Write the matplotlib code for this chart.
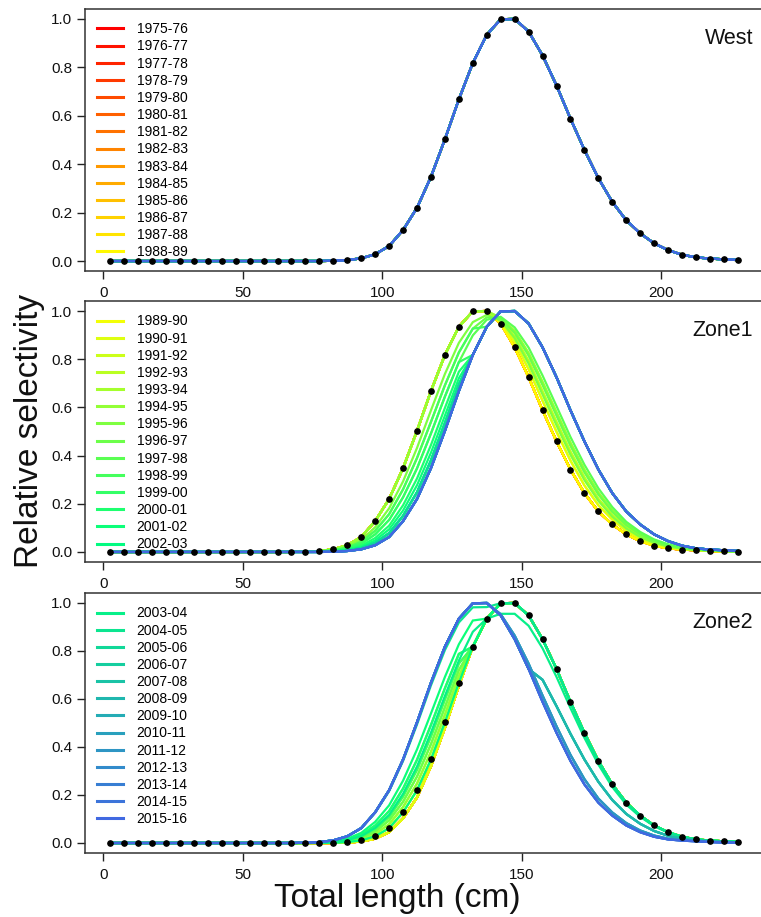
import matplotlib
matplotlib.use("Agg")
import matplotlib.pyplot as plt
from matplotlib.colors import LinearSegmentedColormap

plt.rcParams['font.family'] = ['Liberation Sans', 'DejaVu Sans']

# ---------------- data ----------------
length_bins = [2.5, 7.5, 12.5, 17.5, 22.5, 27.5, 32.5, 37.5, 42.5, 47.5, 52.5, 57.5,
               62.5, 67.5, 72.5, 77.5, 82.5, 87.5, 92.5, 97.5, 102.5, 107.5, 112.5,
               117.5, 122.5, 127.5, 132.5, 137.5, 142.5, 147.5, 152.5, 157.5, 162.5,
               167.5, 172.5, 177.5, 182.5, 187.5, 192.5, 197.5, 202.5, 207.5, 212.5,
               217.5, 222.5, 227.5]

years = ["1975-76", "1976-77", "1977-78", "1978-79", "1979-80", "1980-81", "1981-82",
         "1982-83", "1983-84", "1984-85", "1985-86", "1986-87", "1987-88", "1988-89",
         "1989-90", "1990-91", "1991-92", "1992-93", "1993-94", "1994-95", "1995-96",
         "1996-97", "1997-98", "1998-99", "1999-00", "2000-01", "2001-02", "2002-03",
         "2003-04", "2004-05", "2005-06", "2006-07", "2007-08", "2008-09", "2009-10",
         "2010-11", "2011-12", "2012-13", "2013-14", "2014-15", "2015-16"]

# selectivity curves (one value per length bin)
sel_W = [0, 0, 0, 0, 0, 0, 0, 0, 0, 0, 0, 0, 0, 0,
         0.000, 0.000, 0.001, 0.004, 0.011, 0.028, 0.062, 0.128, 0.220, 0.348, 0.503,
         0.668, 0.818, 0.935, 0.999, 1.000, 0.948, 0.849, 0.725, 0.588, 0.459, 0.342,
         0.244, 0.168, 0.114, 0.073, 0.045, 0.026, 0.015, 0.010, 0.007, 0.004]
sel_Z1 = [0, 0, 0, 0, 0, 0, 0, 0, 0, 0, 0, 0, 0, 0,
          0.001, 0.004, 0.011, 0.028, 0.062, 0.128, 0.220, 0.348, 0.503, 0.668, 0.818,
          0.935, 0.999, 1.000, 0.948, 0.849, 0.725, 0.588, 0.459, 0.342, 0.244, 0.168,
          0.114, 0.073, 0.045, 0.026, 0.015, 0.010, 0.007, 0.004, 0.002, 0.001]
sel_R85 = [0, 0, 0, 0, 0, 0, 0, 0, 0, 0, 0, 0, 0, 0,
           0.001, 0.004, 0.011, 0.028, 0.062, 0.128, 0.220, 0.348, 0.503, 0.668, 0.818,
           0.935, 0.999, 1.000, 0.956, 0.872, 0.758, 0.627, 0.499, 0.379, 0.276, 0.194,
           0.134, 0.087, 0.055, 0.033, 0.020, 0.012, 0.008, 0.005, 0.003, 0.001]
sel_R70 = [0, 0, 0, 0, 0, 0, 0, 0, 0, 0, 0, 0, 0, 0,
           0.001, 0.004, 0.011, 0.028, 0.062, 0.128, 0.220, 0.348, 0.503, 0.668, 0.818,
           0.935, 0.999, 1.000, 0.963, 0.894, 0.792, 0.666, 0.539, 0.416, 0.309, 0.220,
           0.153, 0.102, 0.066, 0.040, 0.024, 0.015, 0.009, 0.006, 0.004, 0.002]
sel_R55 = [0, 0, 0, 0, 0, 0, 0, 0, 0, 0, 0, 0, 0, 0,
           0.001, 0.004, 0.011, 0.028, 0.062, 0.128, 0.220, 0.348, 0.503, 0.668, 0.818,
           0.935, 0.999, 1.000, 0.971, 0.917, 0.825, 0.705, 0.579, 0.453, 0.341, 0.246,
           0.173, 0.116, 0.076, 0.047, 0.029, 0.017, 0.011, 0.007, 0.004, 0.002]
sel_M75 = [0, 0, 0, 0, 0, 0, 0, 0, 0, 0, 0, 0, 0, 0,
           0.001, 0.003, 0.009, 0.022, 0.049, 0.103, 0.181, 0.293, 0.432, 0.588, 0.739,
           0.868, 0.954, 0.984, 0.961, 0.887, 0.781, 0.653, 0.525, 0.403, 0.298, 0.212,
           0.146, 0.097, 0.062, 0.038, 0.023, 0.014, 0.009, 0.006, 0.003, 0.002]
sel_M60 = [0, 0, 0, 0, 0, 0, 0, 0, 0, 0, 0, 0, 0, 0,
           0.001, 0.002, 0.007, 0.018, 0.042, 0.088, 0.157, 0.260, 0.390, 0.540, 0.692,
           0.828, 0.927, 0.974, 0.968, 0.909, 0.814, 0.692, 0.565, 0.440, 0.330, 0.238,
           0.166, 0.111, 0.073, 0.045, 0.027, 0.016, 0.010, 0.006, 0.004, 0.002]
sel_M45 = [0, 0, 0, 0, 0, 0, 0, 0, 0, 0, 0, 0, 0, 0,
           0.000, 0.002, 0.006, 0.015, 0.034, 0.073, 0.133, 0.227, 0.347, 0.492, 0.645,
           0.788, 0.899, 0.964, 0.976, 0.932, 0.848, 0.732, 0.605, 0.477, 0.362, 0.264,
           0.186, 0.125, 0.083, 0.052, 0.032, 0.019, 0.011, 0.007, 0.005, 0.003]
sel_L10 = [0, 0, 0, 0, 0, 0, 0, 0, 0, 0, 0, 0, 0, 0,
           0.000, 0.000, 0.002, 0.006, 0.016, 0.038, 0.078, 0.150, 0.248, 0.380, 0.535,
           0.695, 0.818, 0.935, 0.999, 1.000, 0.948, 0.849, 0.725, 0.588, 0.459, 0.342,
           0.244, 0.168, 0.114, 0.073, 0.045, 0.026, 0.015, 0.010, 0.007, 0.004]
sel_L20 = [0, 0, 0, 0, 0, 0, 0, 0, 0, 0, 0, 0, 0, 0,
           0.000, 0.001, 0.003, 0.009, 0.021, 0.048, 0.094, 0.172, 0.277, 0.412, 0.566,
           0.721, 0.818, 0.935, 0.999, 1.000, 0.948, 0.849, 0.725, 0.588, 0.459, 0.342,
           0.244, 0.168, 0.114, 0.073, 0.045, 0.026, 0.015, 0.010, 0.007, 0.004]
sel_L30 = [0, 0, 0, 0, 0, 0, 0, 0, 0, 0, 0, 0, 0, 0,
           0.000, 0.001, 0.004, 0.011, 0.026, 0.058, 0.109, 0.194, 0.305, 0.444, 0.598,
           0.748, 0.818, 0.935, 0.999, 1.000, 0.948, 0.849, 0.725, 0.588, 0.459, 0.342,
           0.244, 0.168, 0.114, 0.073, 0.045, 0.026, 0.015, 0.010, 0.007, 0.004]
sel_L45 = [0, 0, 0, 0, 0, 0, 0, 0, 0, 0, 0, 0, 0, 0,
           0.000, 0.002, 0.006, 0.015, 0.034, 0.073, 0.133, 0.227, 0.347, 0.492, 0.645,
           0.788, 0.818, 0.935, 0.999, 1.000, 0.948, 0.849, 0.725, 0.588, 0.459, 0.342,
           0.244, 0.168, 0.114, 0.073, 0.045, 0.026, 0.015, 0.010, 0.007, 0.004]
sel_L60 = [0, 0, 0, 0, 0, 0, 0, 0, 0, 0, 0, 0, 0, 0,
           0.001, 0.002, 0.007, 0.018, 0.042, 0.088, 0.157, 0.260, 0.390, 0.540, 0.692,
           0.828, 0.927, 0.935, 0.999, 1.000, 0.948, 0.849, 0.725, 0.588, 0.459, 0.342,
           0.244, 0.168, 0.114, 0.073, 0.045, 0.026, 0.015, 0.010, 0.007, 0.004]
sel_Y = [0, 0, 0, 0, 0, 0, 0, 0, 0, 0, 0, 0, 0, 0,
         0.000, 0.000, 0.000, 0.002, 0.006, 0.018, 0.045, 0.103, 0.190, 0.320, 0.480,
         0.655, 0.818, 0.935, 0.999, 1.000, 0.948, 0.849, 0.725, 0.588, 0.459, 0.342,
         0.244, 0.168, 0.114, 0.073, 0.045, 0.026, 0.015, 0.010, 0.007, 0.004]
sel_P1 = [0, 0, 0, 0, 0, 0, 0, 0, 0, 0, 0, 0, 0, 0,
          0.001, 0.004, 0.011, 0.028, 0.061, 0.126, 0.216, 0.342, 0.494, 0.657, 0.804,
          0.919, 0.982, 0.983, 0.999, 1.000, 0.948, 0.849, 0.725, 0.588, 0.459, 0.342,
          0.244, 0.168, 0.114, 0.073, 0.045, 0.026, 0.015, 0.010, 0.007, 0.004]
sel_P2 = [0, 0, 0, 0, 0, 0, 0, 0, 0, 0, 0, 0, 0, 0,
          0.000, 0.001, 0.004, 0.012, 0.029, 0.063, 0.117, 0.205, 0.319, 0.460, 0.613,
          0.760, 0.880, 0.935, 0.955, 0.955, 0.905, 0.811, 0.692, 0.562, 0.438, 0.327,
          0.233, 0.160, 0.109, 0.070, 0.043, 0.025, 0.014, 0.010, 0.007, 0.004]
sel_K = [0, 0, 0, 0, 0, 0, 0, 0, 0, 0, 0, 0, 0, 0,
         0.001, 0.004, 0.011, 0.028, 0.062, 0.128, 0.220, 0.348, 0.503, 0.668, 0.818,
         0.935, 0.999, 1.000, 0.948, 0.849, 0.725, 0.680, 0.570, 0.455, 0.348, 0.255,
         0.179, 0.121, 0.080, 0.050, 0.030, 0.018, 0.011, 0.007, 0.005, 0.003]
sel_Q = [0, 0, 0, 0, 0, 0, 0, 0, 0, 0, 0, 0, 0, 0,
         0.001, 0.004, 0.011, 0.028, 0.062, 0.128, 0.220, 0.348, 0.503, 0.668, 0.818,
         0.935, 0.999, 1.000, 0.953, 0.864, 0.747, 0.614, 0.486, 0.367, 0.266, 0.185,
         0.127, 0.083, 0.052, 0.031, 0.018, 0.012, 0.008, 0.005, 0.003, 0.001]

curves = {"W": sel_W, "Z1": sel_Z1, "R85": sel_R85, "R70": sel_R70, "R55": sel_R55,
          "M75": sel_M75, "M60": sel_M60, "M45": sel_M45, "L10": sel_L10,
          "L20": sel_L20, "L30": sel_L30, "L45": sel_L45, "L60": sel_L60,
          "Y": sel_Y, "P1": sel_P1, "P2": sel_P2, "K": sel_K, "Q": sel_Q}

# which curve each year uses, per region
west_years = ["W"] * 41
zone1_years = (["Z1"] * 14 + ["R85"] * 2 + ["R70"] * 2 + ["R55"] * 2 +
               ["M75", "M60", "M45", "L60", "L45", "L30", "L20"] +
               ["L10"] * 4 + ["W"] * 10)
zone2_years = (["Y"] * 16 + ["W"] * 2 + ["L10"] * 2 + ["L20"] * 2 + ["L30"] * 2 +
               ["L45"] * 2 + ["L60", "W", "P2", "P1"] + ["K"] * 4 + ["Q"] * 3 +
               ["Z1"] * 4)

panel_names = ["West", "Zone1", "Zone2"]
panel_assign = [west_years, zone1_years, zone2_years]
panel_dots = [sel_W, sel_Z1, sel_W]
legend_ranges = [(0, 14), (14, 28), (28, 41)]

x_ticks = [0, 50, 100, 150, 200]
y_ticks = [0.0, 0.2, 0.4, 0.6, 0.8, 1.0]
y_ticklabels = ["0.0", "0.2", "0.4", "0.6", "0.8", "1.0"]

# ---------------- plotting ----------------
cmap = LinearSegmentedColormap.from_list("yr", ["red", "yellow", "springgreen", "royalblue"])
n_years = len(years)
colors = [cmap(i / (n_years - 1)) for i in range(n_years)]

FW, FH = 761, 917
fig = plt.figure(figsize=(FW / 100, FH / 100), dpi=100)


def rect(l, t, r, b):
    return [l / FW, 1 - b / FH, (r - l) / FW, (b - t) / FH]


panel_px = [(9.3, 270.7), (301.4, 561.6), (593.4, 852.6)]

for p in range(3):
    t, b = panel_px[p]
    ax = fig.add_axes(rect(85, t, 763, b))
    for i in range(n_years):
        ax.plot(length_bins, curves[panel_assign[p][i]], color=colors[i], lw=1.6,
                solid_joinstyle='miter', zorder=2)
    ax.plot(length_bins, panel_dots[p], 'o', color='black', ms=3.8, zorder=5)
    ax.set_xlim(-6.5, 236.5)
    ax.set_ylim(-0.04, 1.04)
    ax.set_xticks(x_ticks)
    ax.set_yticks(y_ticks)
    ax.set_yticklabels(y_ticklabels)
    ax.tick_params(axis='both', direction='out', length=6, width=1, colors='#222222',
                   labelsize=11, labelcolor='#111111')
    ax.tick_params(axis='y', pad=3)
    ax.tick_params(axis='x', pad=5)
    for s in ax.spines.values():
        s.set_color('#333333')
        s.set_linewidth(1.1)
    ax.text(753 / FW, 1 - (t + 29.2) / FH, panel_names[p], transform=fig.transFigure,
            fontsize=15.5, ha='right', va='center', color='#111111')
    # legend
    a0, a1 = legend_ranges[p]
    handles = [plt.Line2D([], [], color=colors[i], lw=2.2) for i in range(a0, a1)]
    ax.legend(handles, years[a0:a1], loc='upper left', frameon=False,
              bbox_to_anchor=(97 / FW, 1 - (t + 13) / FH), bbox_transform=fig.transFigure,
              borderpad=0, borderaxespad=0, handlelength=1.9, handletextpad=0.95,
              labelspacing=0.227, fontsize=10)

fig.text(30 / FW, 1 - 431 / FH, "Relative selectivity", rotation=90, fontsize=24,
         ha='center', va='center', color='#111111')
fig.text(397 / FW, 1 - 898 / FH, "Total length (cm)", fontsize=24,
         ha='center', va='center', color='#111111')

fig.savefig("out.png", dpi=100)
